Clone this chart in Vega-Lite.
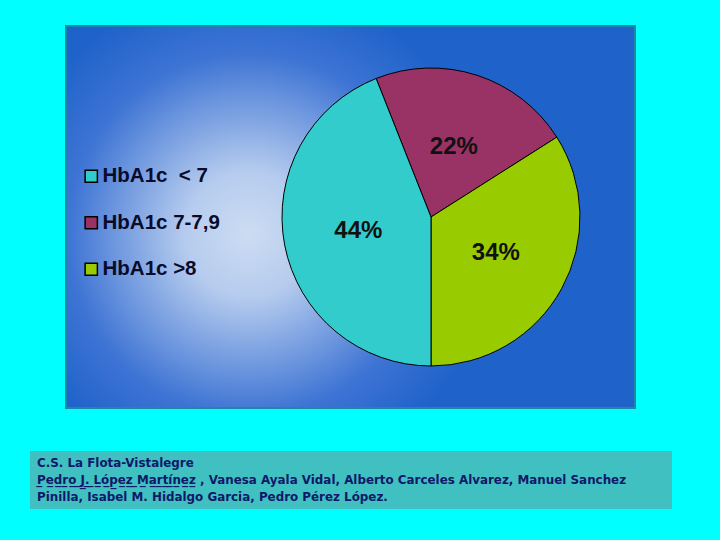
{
  "$schema": "https://vega.github.io/schema/vega-lite/v6.json",
  "background": "#00FFFF",
  "padding": {"left": 30, "top": 25, "right": 48, "bottom": 33},
  "autosize": {"type": "pad"},
  "spacing": 42,
  "center": true,
  "config": {"font": "Liberation Sans"},
  "vconcat": [
    {
      "width": 569,
      "height": 382,
      "view": {
        "stroke": "#1A8AA8",
        "strokeWidth": 2,
        "fill": {
          "gradient": "radial",
          "x1": 0.32, "y1": 0.53, "r1": 0,
          "x2": 0.32, "y2": 0.53, "r2": 0.44,
          "stops": [
            {"offset": 0, "color": "#CCDCF2"},
            {"offset": 0.25, "color": "#B6CCEE"},
            {"offset": 0.72, "color": "#3E74D4"},
            {"offset": 1, "color": "#1E62CA"}
          ]
        }
      },
      "data": {
        "values": [
          {"category": "HbA1c 7-7,9", "order": 1, "pct": 22, "label": "22%"},
          {"category": "HbA1c >8", "order": 2, "pct": 34, "label": "34%"},
          {"category": "HbA1c\u00a0\u00a0< 7", "order": 3, "pct": 44, "label": "44%"}
        ]
      },
      "encoding": {
        "theta": {"field": "pct", "type": "quantitative", "stack": true, "scale": {"range": [-0.377, 5.906]}},
        "order": {"field": "order", "type": "quantitative"}
      },
      "layer": [
        {
          "mark": {"type": "arc", "outerRadius": 149, "xOffset": 80.5, "stroke": "#000000", "strokeWidth": 1},
          "encoding": {
            "color": {
              "field": "category",
              "type": "nominal",
              "scale": {
                "domain": ["HbA1c\u00a0\u00a0< 7", "HbA1c 7-7,9", "HbA1c >8"],
                "range": ["#33CCCC", "#993366", "#99CC00"]
              },
              "legend": {
                "orient": "none",
                "legendX": 51,
                "legendY": 140,
                "title": null,
                "symbolType": "square",
                "symbolSize": 150,
                "symbolStrokeColor": "#000000",
                "symbolStrokeWidth": 1.5,
                "symbolOpacity": 1,
                "labelFont": "Liberation Sans",
                "labelFontSize": 20.5,
                "labelFontWeight": "bold",
                "labelColor": "#0A0A2A",
                "labelLimit": 300,
                "labelOffset": 1,
                "rowPadding": 25.5
              }
            }
          }
        },
        {
          "mark": {"type": "text", "radius": 74, "xOffset": 80.5, "font": "Liberation Sans", "fontSize": 24, "fontWeight": "bold", "color": "#111111"},
          "encoding": {"text": {"field": "label"}}
        }
      ]
    },
    {
      "width": 642,
      "height": 58,
      "view": {"fill": "#40C0C0", "stroke": null},
      "data": {
        "values": [
          {"line": 1, "text": "C.S. La Flota-Vistalegre"},
          {"line": 2, "text": "P̲e̲d̲r̲o̲ ̲J̲.̲ ̲L̲ó̲p̲e̲z̲ ̲M̲a̲r̲t̲í̲n̲e̲z̲ , Vanesa Ayala Vidal, Alberto Carceles Alvarez, Manuel Sanchez"},
          {"line": 3, "text": "Pinilla, Isabel M. Hidalgo Garcia, Pedro Pérez López."}
        ]
      },
      "mark": {"type": "text", "align": "left", "baseline": "middle", "x": 7, "font": "DejaVu Sans", "fontSize": 11.9, "fontWeight": "bold", "color": "#10186A"},
      "encoding": {
        "y": {"field": "line", "type": "ordinal", "axis": null, "scale": {"type": "point", "padding": 0.75}},
        "text": {"field": "text"}
      }
    }
  ]
}
